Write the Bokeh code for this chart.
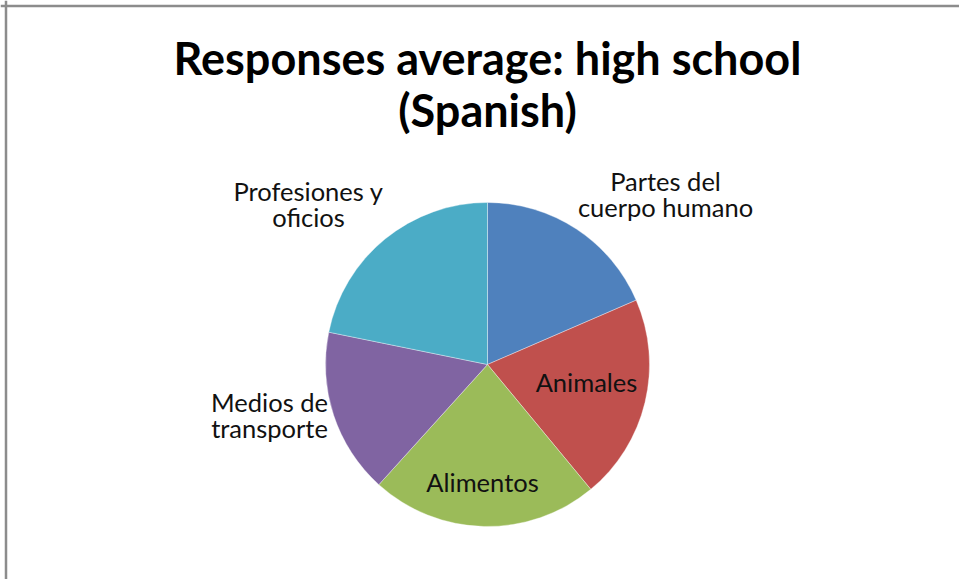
import numpy as np
from bokeh.plotting import figure
from bokeh.models import Range1d, Span, ColumnDataSource
from bokeh.core.properties import value
from bokeh.embed import file_html
from bokeh.resources import INLINE

# ---- data ----
categories = ["Partes del\ncuerpo humano", "Animales", "Alimentos",
              "Medios de\ntransporte", "Profesiones y\noficios"]
values = [18.5, 20.5, 22.7, 16.5, 21.8]
colors = ["#4F81BD", "#C0504D", "#9BBB59", "#8064A2", "#4BACC6"]
title_lines = ["Responses average: high school", "(Spanish)"]

# ---- layout (pixels, image coordinates: y downward) ----
W, H = 959, 579
CX, CY, R = 487, 364, 162
# label anchor: centre x offset and first-line text offset from pie centre
label_offsets = [(178, -184), (99, 17), (-5, 117), (-218, 37), (-179, -174)]
LABEL_LH = 26.5

p = figure(width=W, height=H, output_backend="svg", toolbar_location=None,
           x_range=Range1d(0, W), y_range=Range1d(0, H),
           min_border=0, min_border_left=0, min_border_right=0,
           min_border_top=0, min_border_bottom=0)
p.axis.visible = False
p.grid.visible = False
p.outline_line_color = None
p.background_fill_color = "white"
p.border_fill_color = "white"

# frame border of the chart (extends beyond the window at right/bottom)
p.add_layout(Span(location=5.5, dimension="height", line_color="#8c8c8c", line_width=2.5))
p.add_layout(Span(location=H - 5.5, dimension="width", line_color="#8c8c8c", line_width=2.5))

# ---- pie wedges, clockwise from 12 o'clock ----
vals = np.array(values, dtype=float)
frac = vals / vals.sum()
cum = np.concatenate([[0], np.cumsum(frac)])
start_deg = 90 - cum[1:] * 360   # counter-clockwise start
end_deg = 90 - cum[:-1] * 360
src = ColumnDataSource(dict(
    start=np.radians(start_deg), end=np.radians(end_deg), color=colors,
    x=[CX] * len(values), y=[H - CY] * len(values)))
p.wedge(x="x", y="y", radius=R, start_angle="start", end_angle="end",
        fill_color="color", line_color="white", line_width=0.6, line_alpha=0.6,
        source=src)

# ---- labels ----
lx, ly, lt = [], [], []
for cat, (dx, dy) in zip(categories, label_offsets):
    for i, line in enumerate(cat.split("\n")):
        lx.append(CX + dx)
        ly.append(H - (CY + dy + i * LABEL_LH))
        lt.append(line)
p.text(x=lx, y=ly, text=lt, text_align="center", text_baseline="alphabetic",
       text_font=value("Lato"), text_font_size="25.5px", text_color="#111111")

# ---- title ----
tx = [CX, CX]
ty = [H - 57, H - 109]
p.text(x=tx, y=ty, text=title_lines, text_align="center", text_baseline="alphabetic",
       text_font=value("Lato"), text_font_style="bold", text_font_size="45px",
       text_color="#000000")

open("out.html", "w").write(file_html(p, INLINE))
